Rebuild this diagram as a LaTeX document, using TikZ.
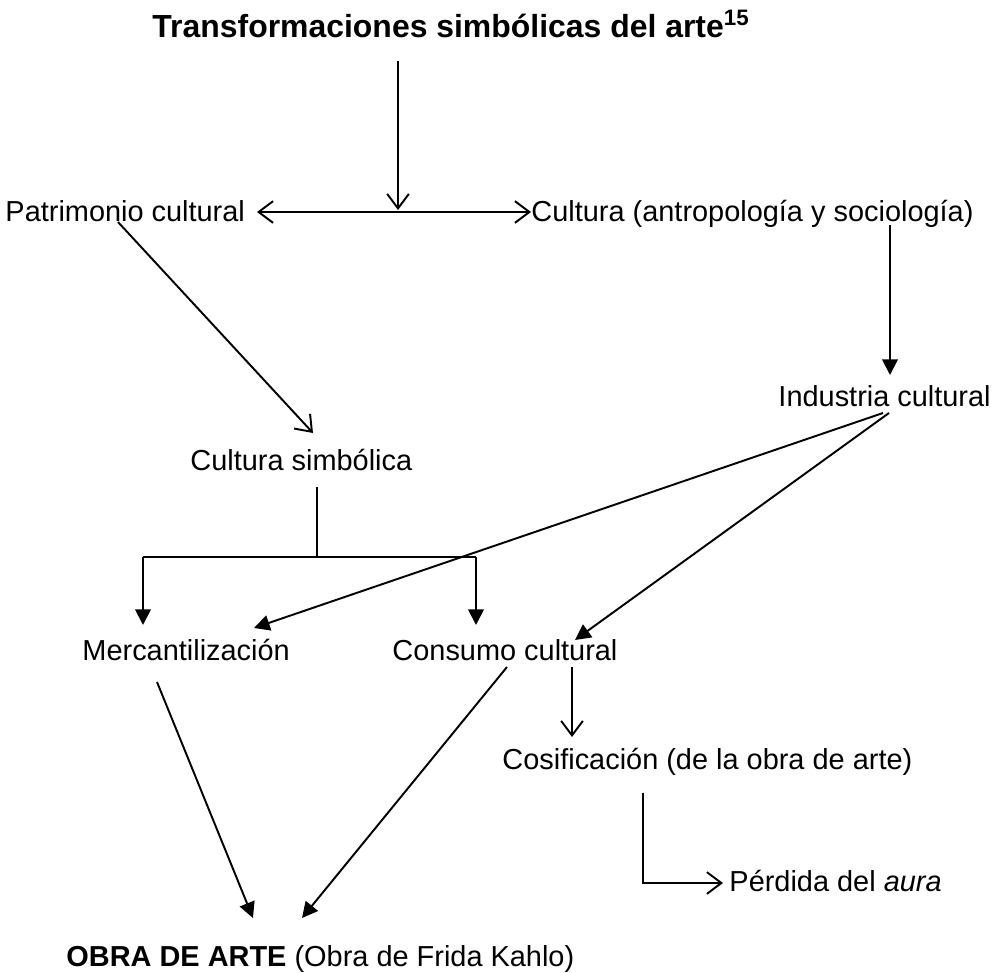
\documentclass[tikz,border=0pt]{standalone}
\usepackage{fontspec}
\setmainfont{Liberation Sans}
\usetikzlibrary{arrows.meta}
\begin{document}
\begin{tikzpicture}[x=0.415pt,y=-0.415pt,
  lbl/.style={inner sep=0pt,anchor=base west,font=\fontsize{12}{14}\selectfont},
  ttl/.style={inner sep=0pt,anchor=base west,font=\fontsize{13.25}{15}\selectfont\bfseries},
  conn/.style={line width=0.8pt},
  opena/.style={conn,-{Straight Barb[length=6pt,width=9pt,line width=0.8pt]}},
  opentwo/.style={conn,{Straight Barb[length=6pt,width=9pt,line width=0.8pt]}-{Straight Barb[length=6pt,width=9pt,line width=0.8pt]}},
  filla/.style={conn,-{Triangle[length=6.5pt,width=6.5pt]}}]
\useasboundingbox (0,0) rectangle (992,973);
% nodes
\node[ttl] (title) at (152,38) {Transformaciones simbólicas del arte\textsuperscript{15}};
\node[lbl] (patr) at (5,221) {Patrimonio cultural};
\node[lbl] (cult) at (531,221) {Cultura (antropología y sociología)};
\node[lbl] (ind) at (778,406) {Industria cultural};
\node[lbl] (csim) at (190,470) {Cultura simbólica};
\node[lbl] (merc) at (82,660) {Mercantilización};
\node[lbl] (cons) at (392,660) {Consumo cultural};
\node[lbl] (cosi) at (502,769) {Cosificación (de la obra de arte)};
\node[lbl] (perd) at (729,891) {Pérdida del \textit{aura}};
\node[lbl] (obra) at (66,966) {\textbf{OBRA DE ARTE} (Obra de Frida Kahlo)};
% coordinates
\coordinate (tb) at (398,61);
\coordinate (mid) at (398,210);
\coordinate (dl) at (257,212);
\coordinate (dr) at (531,212);
\coordinate (cultout) at (890,225);
\coordinate (indin) at (890,375);
\coordinate (patrout) at (118,222);
\coordinate (csimin) at (313,433);
\coordinate (csimout) at (317,487);
\coordinate (fork) at (317,557);
\coordinate (fl) at (143,557);
\coordinate (fr) at (476,557);
\coordinate (mercin) at (143,625);
\coordinate (consin) at (476,625);
\coordinate (indout1) at (883,413);
\coordinate (indout2) at (889,413);
\coordinate (mercin2) at (254,628);
\coordinate (consin2) at (575,640);
\coordinate (consout) at (572,667);
\coordinate (cosiin) at (572,737);
\coordinate (cosiout) at (643,793);
\coordinate (perdcorner) at (643,883);
\coordinate (perdin) at (723,883);
\coordinate (mercout) at (157,682);
\coordinate (consout2) at (507,667);
\coordinate (obrain1) at (253,918);
\coordinate (obrain2) at (302,918);
% connectors
\draw[opena] (tb) -- (mid);
\draw[opentwo] (dl) -- (dr);
\draw[filla] (cultout) -- (indin);
\draw[opena] (patrout) -- (csimin);
\draw[conn] (csimout) -- (fork);
\draw[conn] (fl) -- (fr);
\draw[filla] (fl) -- (mercin);
\draw[filla] (fr) -- (consin);
\draw[filla] (indout1) -- (mercin2);
\draw[filla] (indout2) -- (consin2);
\draw[opena] (consout) -- (cosiin);
\draw[opena] (cosiout) -- (perdcorner) -- (perdin);
\draw[filla] (mercout) -- (obrain1);
\draw[filla] (consout2) -- (obrain2);
\end{tikzpicture}
\end{document}
